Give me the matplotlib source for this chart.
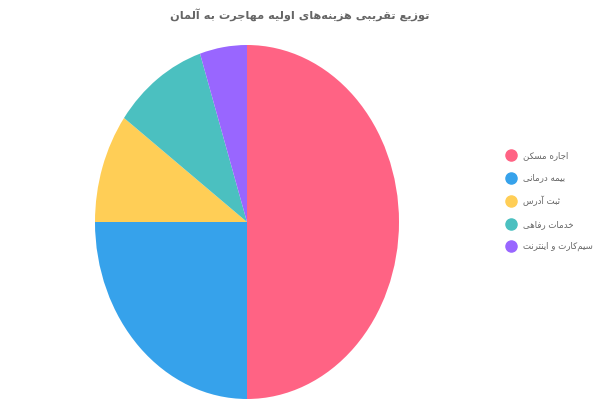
import matplotlib
matplotlib.use("Agg")
import matplotlib.pyplot as plt
from matplotlib.lines import Line2D

title = "توزیع تقریبی هزینه‌های اولیه مهاجرت به آلمان"
labels = ["اجاره مسکن", "بیمه درمانی", "ثبت آدرس", "خدمات رفاهی", "سیم‌کارت و اینترنت"]
shares = [50, 25, 10, 10, 5]
colors = ["#FF6384", "#36A2EB", "#FFCE56", "#4BC0C0", "#9966FF"]

# presentation forms: isolated, final, initial, medial (None = right-joining only)
FORMS = {
    "ا": ("\uFE8D", "\uFE8E", None, None),
    "آ": ("\uFE81", "\uFE82", None, None),
    "ب": ("\uFE8F", "\uFE90", "\uFE91", "\uFE92"),
    "ت": ("\uFE95", "\uFE96", "\uFE97", "\uFE98"),
    "ث": ("\uFE99", "\uFE9A", "\uFE9B", "\uFE9C"),
    "ج": ("\uFE9D", "\uFE9E", "\uFE9F", "\uFEA0"),
    "خ": ("\uFEA5", "\uFEA6", "\uFEA7", "\uFEA8"),
    "د": ("\uFEA9", "\uFEAA", None, None),
    "ر": ("\uFEAD", "\uFEAE", None, None),
    "ز": ("\uFEAF", "\uFEB0", None, None),
    "س": ("\uFEB1", "\uFEB2", "\uFEB3", "\uFEB4"),
    "ع": ("\uFEC9", "\uFECA", "\uFECB", "\uFECC"),
    "ف": ("\uFED1", "\uFED2", "\uFED3", "\uFED4"),
    "ق": ("\uFED5", "\uFED6", "\uFED7", "\uFED8"),
    "ل": ("\uFEDD", "\uFEDE", "\uFEDF", "\uFEE0"),
    "م": ("\uFEE1", "\uFEE2", "\uFEE3", "\uFEE4"),
    "ن": ("\uFEE5", "\uFEE6", "\uFEE7", "\uFEE8"),
    "ه": ("\uFEE9", "\uFEEA", "\uFEEB", "\uFEEC"),
    "و": ("\uFEED", "\uFEEE", None, None),
    "ی": ("\uFBFC", "\uFBFD", "\uFBFE", "\uFBFF"),
    "ک": ("\uFB8E", "\uFB8F", "\uFB90", "\uFB91"),
}


def shape(text):
    # minimal Persian shaping + RTL reordering (matplotlib has no bidi)
    out = []
    n = len(text)
    for i, ch in enumerate(text):
        if ch not in FORMS:
            if ch != "\u200c":
                out.append(ch)
            continue
        prev = text[i - 1] if i > 0 else ""
        nxt = text[i + 1] if i + 1 < n else ""
        jp = prev in FORMS and FORMS[prev][2] is not None
        jn = FORMS[ch][2] is not None and nxt in FORMS
        iso, fin, ini, med = FORMS[ch]
        if jp and jn:
            out.append(med)
        elif jp:
            out.append(fin)
        elif jn:
            out.append(ini)
        else:
            out.append(iso)
    return "".join(out)[::-1]


plt.rcParams["font.family"] = ["DejaVu Sans"]

fig = plt.figure(figsize=(6, 4), dpi=100)
ax = fig.add_axes([95 / 600, 1 / 400, 304 / 600, 354 / 400])
ax.pie(shares, colors=colors, startangle=90, counterclock=False,
       wedgeprops=dict(linewidth=0))
ax.set_aspect("auto")
ax.set_xlim(-1, 1)
ax.set_ylim(-1, 1)

fig.text(0.5, 0.963, shape(title), ha="center", va="center",
         fontsize=8.2, fontweight="bold", color="#666666")

handles = [Line2D([], [], marker="o", linestyle="none", markersize=8,
                  markerfacecolor=c, markeredgecolor=c) for c in colors]
fig.legend(handles, [shape(l) for l in labels], loc="center left",
           bbox_to_anchor=(503 / 600, 0.497), frameon=False,
           fontsize=6.2, labelcolor="#666666", labelspacing=1.55,
           handletextpad=0.9, handlelength=1.0, borderaxespad=0)

fig.savefig("out.png", dpi=100)
